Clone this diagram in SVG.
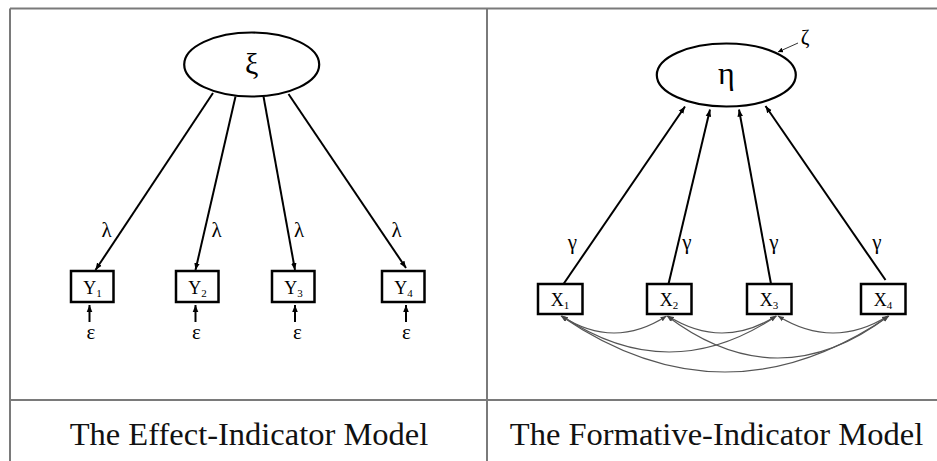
<svg xmlns="http://www.w3.org/2000/svg" width="937" height="461" viewBox="0 0 937 461">
<style>
.frame{stroke:#7a7a7a;stroke-width:2;fill:none}
.node{fill:#fff;stroke:#000;stroke-width:2.5}
.lat{fill:#fff;stroke:#000;stroke-width:2.2}
text{font-family:'Liberation Serif','DejaVu Serif',serif;fill:#000}
.path{stroke:#000;stroke-width:2;fill:none}
.corr{stroke:#555;stroke-width:1.2;fill:none}
.cap{font-size:32.5px;fill:#111;text-anchor:middle}
.lab{font-size:18px;text-anchor:middle}
.sub{font-size:11px}
.gr{font-size:21px;text-anchor:middle}
</style>
<defs>
<marker id="ah" viewBox="0 0 10 10" refX="10" refY="5" markerWidth="5" markerHeight="5" orient="auto" markerUnits="userSpaceOnUse">
<path d="M0,0 L10,5 L0,10 z" fill="#000"/>
</marker>
<marker id="ahs" viewBox="0 0 10 10" refX="10" refY="5" markerWidth="7" markerHeight="7" orient="auto" markerUnits="userSpaceOnUse">
<path d="M0,1 L10,5 L0,9 z" fill="#000"/>
</marker>
<marker id="ag" viewBox="0 0 10 10" refX="10" refY="5" markerWidth="6" markerHeight="6" orient="auto-start-reverse" markerUnits="userSpaceOnUse">
<path d="M0,1 L10,5 L0,9 z" fill="#444"/>
</marker>
</defs>
<g id="table">
<line class="frame" x1="10" y1="8.5" x2="937" y2="8.5"/>
<line class="frame" x1="10" y1="8.5" x2="10" y2="461"/>
<line class="frame" x1="487" y1="8.5" x2="487" y2="461"/>
<line class="frame" x1="10" y1="400" x2="937" y2="400"/>
</g>
<g id="connectors">
<line class="path" x1="213" y1="93" x2="95.5" y2="270" marker-end="url(#ahs)"/>
<line class="path" x1="235.5" y1="96.5" x2="195.5" y2="270" marker-end="url(#ahs)"/>
<line class="path" x1="263.5" y1="96.5" x2="295" y2="270" marker-end="url(#ahs)"/>
<line class="path" x1="288.5" y1="94" x2="406" y2="268" marker-end="url(#ahs)"/>
<line class="path" x1="89.5" y1="322" x2="89.5" y2="305" marker-end="url(#ahs)"/>
<line class="path" x1="195.5" y1="322" x2="195.5" y2="305" marker-end="url(#ahs)"/>
<line class="path" x1="295" y1="322" x2="295" y2="305" marker-end="url(#ahs)"/>
<line class="path" x1="406" y1="322" x2="406" y2="305" marker-end="url(#ahs)"/>
<line class="path" x1="563.5" y1="284" x2="685" y2="106.5" marker-end="url(#ahs)"/>
<line class="path" x1="668.5" y1="284" x2="710" y2="109.5" marker-end="url(#ahs)"/>
<line class="path" x1="771" y1="284" x2="739" y2="109.5" marker-end="url(#ahs)"/>
<line class="path" x1="885.5" y1="280" x2="765.5" y2="106" marker-end="url(#ahs)"/>
<line x1="798" y1="43" x2="778" y2="52" stroke="#333" stroke-width="1" marker-end="url(#ah)"/>
<path class="corr" d="M561.5,316 Q614,350 666.5,316" marker-start="url(#ag)" marker-end="url(#ag)"/>
<path class="corr" d="M668,316 Q722,350 776,316" marker-start="url(#ag)" marker-end="url(#ag)"/>
<path class="corr" d="M778,316 Q833,350 888,316" marker-start="url(#ag)" marker-end="url(#ag)"/>
<path class="corr" d="M562,316 Q669,388 776.5,316" marker-start="url(#ag)" marker-end="url(#ag)"/>
<path class="corr" d="M667,316 Q778,400 888.5,316" marker-start="url(#ag)" marker-end="url(#ag)"/>
<path class="corr" d="M561,316 Q725,428 889,316" marker-start="url(#ag)" marker-end="url(#ag)"/>
</g>
<g id="xi">
<ellipse class="lat" cx="251.7" cy="64.5" rx="67.5" ry="32"/>
<text x="251.7" y="74" font-size="30" text-anchor="middle">ξ</text>
</g>
<g id="Y1"><rect class="node" x="71" y="271" width="42.5" height="31"/><text class="lab" x="92.5" y="294">Y<tspan class="sub" dy="3">1</tspan></text></g>
<g id="Y2"><rect class="node" x="176" y="271" width="42.5" height="31"/><text class="lab" x="197.5" y="294">Y<tspan class="sub" dy="3">2</tspan></text></g>
<g id="Y3"><rect class="node" x="272" y="271" width="42.5" height="31"/><text class="lab" x="293.5" y="294">Y<tspan class="sub" dy="3">3</tspan></text></g>
<g id="Y4"><rect class="node" x="382" y="271" width="42.5" height="31"/><text class="lab" x="403.5" y="294">Y<tspan class="sub" dy="3">4</tspan></text></g>
<g id="labels-left">
<text class="gr" x="106.5" y="237">λ</text>
<text class="gr" x="216.5" y="237">λ</text>
<text class="gr" x="299" y="237">λ</text>
<text class="gr" x="396.5" y="237">λ</text>
<text class="gr" x="91" y="339">ε</text>
<text class="gr" x="196.5" y="339">ε</text>
<text class="gr" x="297.5" y="339">ε</text>
<text class="gr" x="406.5" y="339">ε</text>
</g>
<g id="eta">
<ellipse class="lat" cx="726.3" cy="75" rx="69.5" ry="31.5"/>
<text x="726.3" y="84" font-size="32" text-anchor="middle">η</text>
</g>
<g id="zeta"><text class="gr" x="805" y="44">ζ</text></g>
<g id="X1"><rect class="node" x="538" y="284" width="44.5" height="30"/><text class="lab" x="560" y="306">X<tspan class="sub" dy="3">1</tspan></text></g>
<g id="X2"><rect class="node" x="647" y="284" width="44.5" height="30"/><text class="lab" x="669" y="306">X<tspan class="sub" dy="3">2</tspan></text></g>
<g id="X3"><rect class="node" x="747" y="284" width="44.5" height="30"/><text class="lab" x="769" y="306">X<tspan class="sub" dy="3">3</tspan></text></g>
<g id="X4"><rect class="node" x="861" y="284" width="44.5" height="30"/><text class="lab" x="883" y="306">X<tspan class="sub" dy="3">4</tspan></text></g>
<g id="labels-right">
<text class="gr" x="572.5" y="249">γ</text>
<text class="gr" x="687" y="249">γ</text>
<text class="gr" x="774" y="249">γ</text>
<text class="gr" x="877" y="249">γ</text>
</g>
<g id="captions">
<text class="cap" x="249" y="445">The Effect-Indicator Model</text>
<text class="cap" x="716.5" y="445">The Formative-Indicator Model</text>
</g>
</svg>
